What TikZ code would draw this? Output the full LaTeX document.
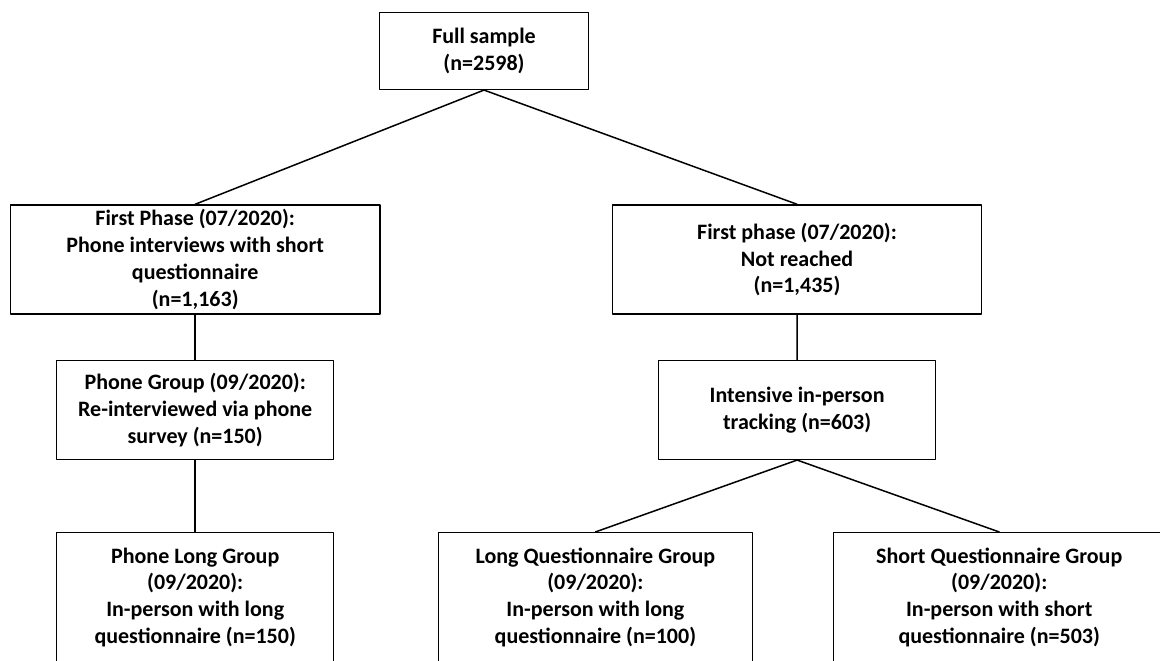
\documentclass[tikz,border=0pt]{standalone}
\usepackage{fontspec}
\setmainfont{Carlito}
\begin{document}
\begin{tikzpicture}[x=.5pt, y=-.5pt, line width=.75pt, line join=round, line cap=round,
		font=\fontsize{11}{13.4}\selectfont\bfseries,
		box/.style={draw, rectangle, align=center, inner sep=0pt},
		wide/.style={box, minimum width=184.6pt, minimum height=54.5pt},
		mid/.style={box, minimum width=138.5pt, minimum height=49.3pt},
		low/.style={box, minimum height=64.5pt}]
		\clip(0,0)rectangle(1160,660);
		\fill[white](0,0)rectangle(1160,660);
		% top
		\node[box, minimum width=104.7pt, minimum height=38.3pt](full) at (484,51){Full sample\\(n=2598)};
		% first phase
		\node[wide](ph1) at (195.2,259.5){First Phase (07/2020):\\Phone interviews with short\\questionnaire\\(n=1,163)};
		\node[wide](nr) at (797,259.5){First phase (07/2020):\\Not reached\\(n=1,435)};
		% second phase
		\node[mid](phg) at (195.2,410){Phone Group (09/2020):\\Re-interviewed via phone\\survey (n=150)};
		\node[mid](track) at (797.1,410){Intensive in-person\\tracking (n=603)};
		% groups
		\node[low, minimum width=138.5pt](phlong) at (195.2,597.2){Phone Long Group\\(09/2020):\\In-person with long\\questionnaire (n=150)};
		\node[low, minimum width=157pt](longq) at (595.4,597.2){Long Questionnaire Group\\(09/2020):\\In-person with long\\questionnaire (n=100)};
		\node[low, minimum width=165.8pt](shortq) at (999.2,597.2){Short Questionnaire Group\\(09/2020):\\In-person with short\\questionnaire (n=503)};
		\draw(full.south)--(ph1.north);
		\draw(full.south)--(nr.north);
		\draw(ph1.south)--(phg.north);
		\draw(phg.south)--(phlong.north);
		\draw(nr.south)--(track.north);
		\foreach \g in{longq,shortq}\draw(track.south)--(\g.north);
	\end{tikzpicture}
\end{document}
